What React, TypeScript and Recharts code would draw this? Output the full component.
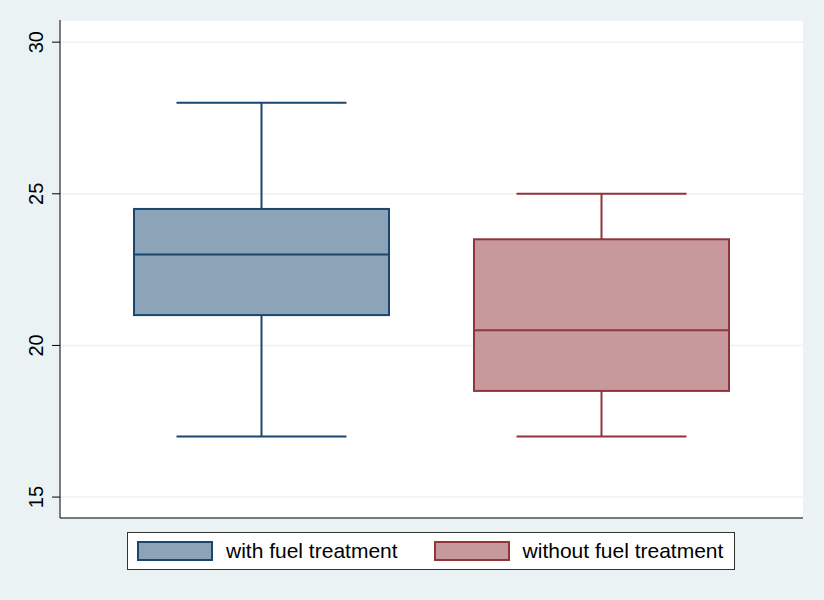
import { Bar, CartesianGrid, Cell, ComposedChart, XAxis, YAxis } from "recharts";

const groups = ["with fuel treatment", "without fuel treatment"];
const lowWhisker = [17, 17];
const lowerQuartile = [21, 18.5];
const medians = [23, 20.5];
const upperQuartile = [24.5, 23.5];
const highWhisker = [28, 25];
const yTicks = [15, 20, 25, 30];

const FILLS = ["#8DA3B8", "#C7999C"];
const STROKES = ["#1A476F", "#90353B"];
const BG = "#EAF2F3";
const FONT = '"Liberation Sans", Arial, Helvetica, sans-serif';

const rows = groups.map((name, i) => ({
  name,
  min: lowWhisker[i],
  q1: lowerQuartile[i],
  median: medians[i],
  q3: upperQuartile[i],
  max: highWhisker[i],
  range: [lowWhisker[i], highWhisker[i]],
}));

function BoxShape(props: any) {
  const { x, y, width, height, payload, index } = props;
  const { min, q1, median, q3, max } = payload;
  // bar spans min..max, so map any value through that pixel range
  const pix = (v: number) => y + (height * (max - v)) / (max - min);
  const cx = x + width / 2;
  const cap = width / 3;
  const stroke = STROKES[index];
  return (
    <g>
      <line x1={cx} x2={cx} y1={pix(max)} y2={pix(q3)} stroke={stroke} strokeWidth={2} />
      <line x1={cx} x2={cx} y1={pix(q1)} y2={pix(min)} stroke={stroke} strokeWidth={2} />
      <line x1={cx - cap} x2={cx + cap} y1={pix(max)} y2={pix(max)} stroke={stroke} strokeWidth={2} />
      <line x1={cx - cap} x2={cx + cap} y1={pix(min)} y2={pix(min)} stroke={stroke} strokeWidth={2} />
      <rect
        x={x}
        y={pix(q3)}
        width={width}
        height={pix(q1) - pix(q3)}
        fill={FILLS[index]}
        stroke={stroke}
        strokeWidth={2}
      />
      <line x1={x} x2={x + width} y1={pix(median)} y2={pix(median)} stroke={stroke} strokeWidth={2} />
    </g>
  );
}

function VerticalTick({ x, y, payload }: any) {
  return (
    <g transform={`translate(${x - 9},${y}) rotate(-90)`}>
      <text textAnchor="middle" fontSize={20} fill="#000" fontFamily={FONT}>
        {payload.value}
      </text>
    </g>
  );
}

export default function App() {
  return (
    <div
      style={{
        position: "absolute",
        left: 0,
        top: 0,
        width: 824,
        height: 600,
        background: BG,
        fontFamily: FONT,
      }}
    >
      <ComposedChart
        width={824}
        height={600}
        data={rows}
        margin={{ top: 20, right: 21, bottom: 81, left: 0 }}
      >
        <CartesianGrid vertical={false} stroke={BG} strokeWidth={1.5} fill="#fff" />
        <XAxis
          dataKey="name"
          height={1}
          tick={false}
          tickLine={false}
          axisLine={{ stroke: "#000", strokeWidth: 1 }}
          padding={{ left: 31, right: 32 }}
        />
        <YAxis
          width={60}
          domain={[14.31, 30.73]}
          ticks={yTicks}
          type="number"
          allowDataOverflow
          tickSize={8}
          tickMargin={0}
          tick={<VerticalTick />}
          tickLine={{ stroke: "#000" }}
          axisLine={{ stroke: "#000", strokeWidth: 1 }}
        />
        <Bar dataKey="range" barSize={255} shape={<BoxShape />} isAnimationActive={false}>
          {rows.map((_, i) => (
            <Cell key={`cell-${i}`} fill={FILLS[i]} />
          ))}
        </Bar>
      </ComposedChart>
      <div
        style={{
          position: "absolute",
          left: 127,
          top: 532,
          width: 606,
          height: 36,
          background: "#fff",
          border: "1px solid #333",
          display: "flex",
          alignItems: "center",
          fontSize: 21,
          color: "#000",
        }}
      >
        {groups.map((g, i) => (
          <div key={g} style={{ display: "flex", alignItems: "center", marginLeft: i === 0 ? 9 : 36 }}>
            <div
              style={{
                width: 72,
                height: 16,
                background: FILLS[i],
                border: `2px solid ${STROKES[i]}`,
              }}
            />
            <span style={{ marginLeft: 13 }}>{g}</span>
          </div>
        ))}
      </div>
    </div>
  );
}
